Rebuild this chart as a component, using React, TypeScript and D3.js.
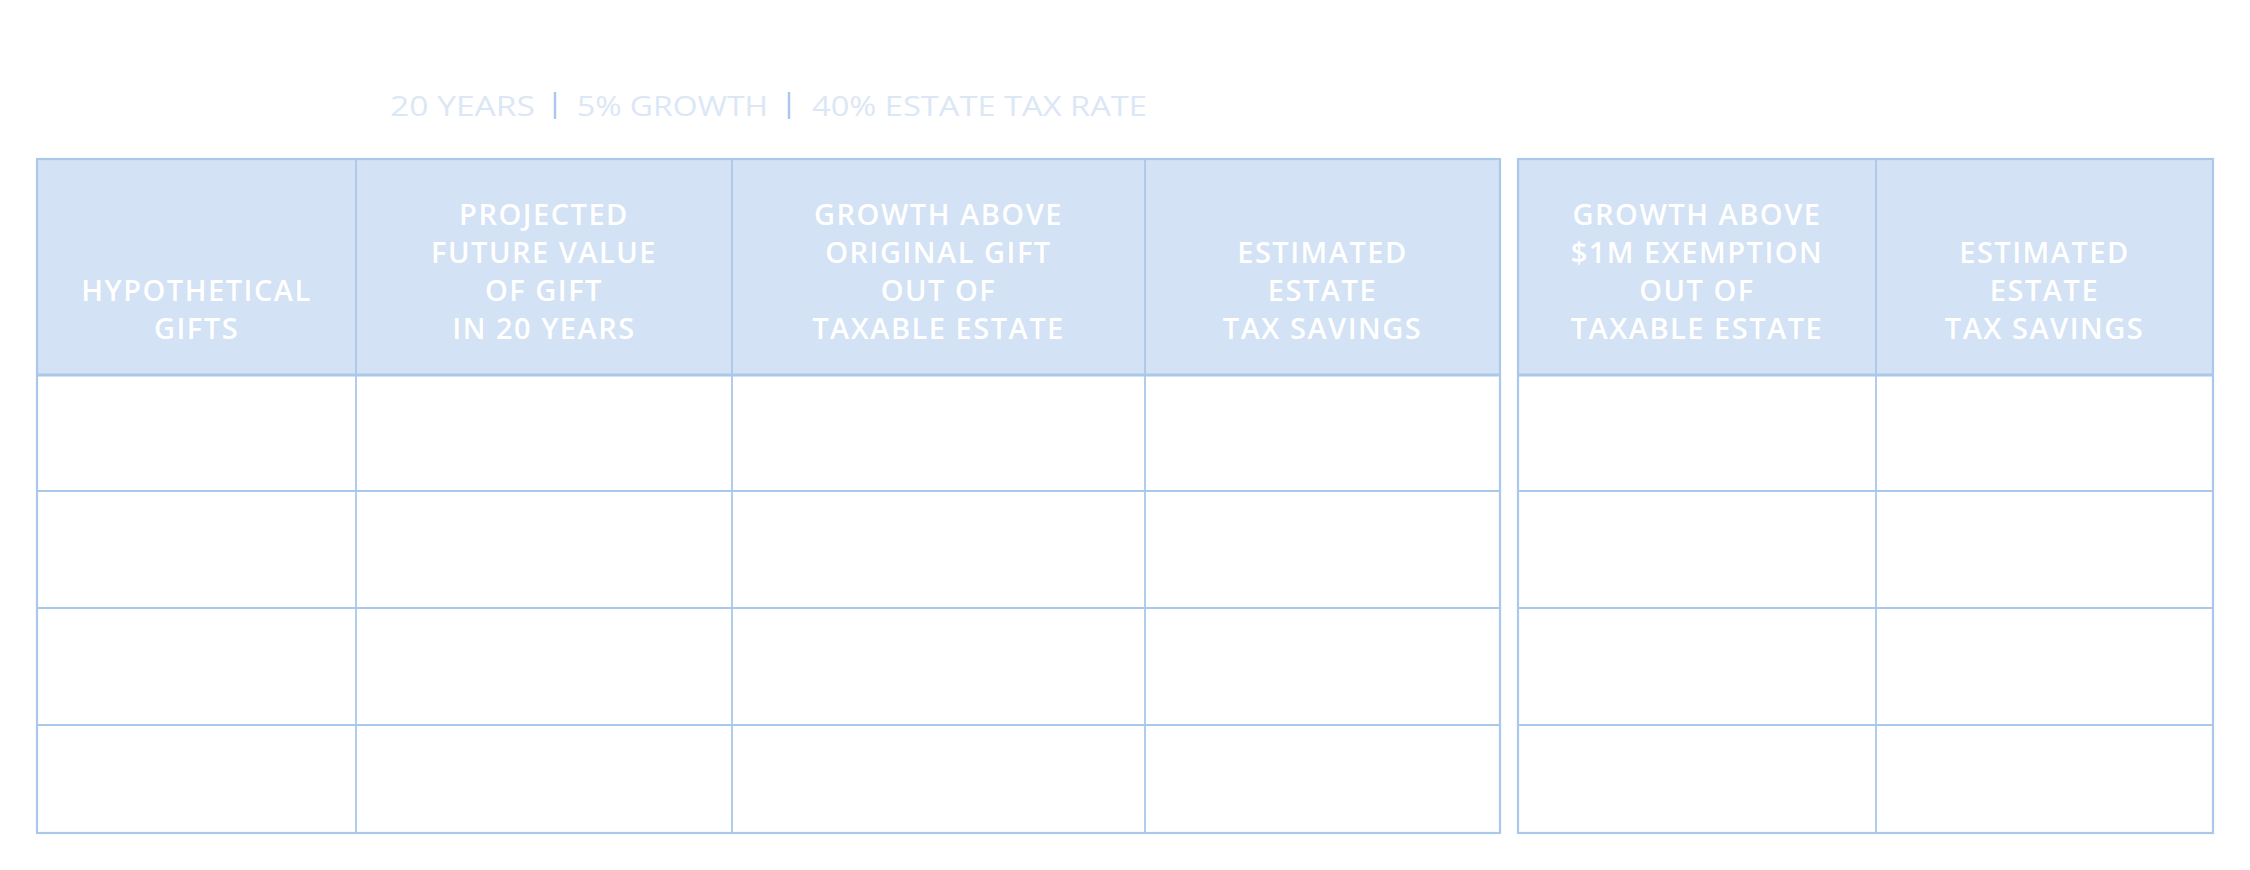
import React, { useEffect, useRef } from 'react';
import * as d3 from 'd3';

// subtitle items, separated by bars
const subtitleItems = ['20 YEARS', '5% GROWTH', '40% ESTATE TAX RATE'];

// header labels, one array of lines per column
const leftHeaders = [
  ['HYPOTHETICAL', 'GIFTS'],
  ['PROJECTED', 'FUTURE VALUE', 'OF GIFT', 'IN 20 YEARS'],
  ['GROWTH ABOVE', 'ORIGINAL GIFT', 'OUT OF', 'TAXABLE ESTATE'],
  ['ESTIMATED', 'ESTATE', 'TAX SAVINGS'],
];
const rightHeaders = [
  ['GROWTH ABOVE', '$1M EXEMPTION', 'OUT OF', 'TAXABLE ESTATE'],
  ['ESTIMATED', 'ESTATE', 'TAX SAVINGS'],
];

// body rows are left blank in the original
const leftRows = [
  ['', '', '', ''],
  ['', '', '', ''],
  ['', '', '', ''],
  ['', '', '', ''],
];
const rightRows = leftRows.map(() => ['', '']);

// layout
const W = 2250;
const H = 870;
const leftEdges = [37, 356, 732, 1145, 1500];
const rightEdges = [1518, 1876, 2213];
const tableTop = 159;
const headerBottom = 375;
const rowEdges = [375, 491, 608, 725, 833];
const border = '#a9c8ea';
const headFill = '#d3e2f4';

const drawTable = (g, edges, headers, rows) => {
  const x0 = edges[0];
  const x1 = edges[edges.length - 1];
  const yBottom = rowEdges[rowEdges.length - 1];

  g.append('rect')
    .attr('x', x0).attr('y', tableTop)
    .attr('width', x1 - x0).attr('height', headerBottom - tableTop)
    .attr('fill', headFill);

  // horizontal row lines
  g.selectAll('line.row')
    .data(rowEdges.slice(0, rows.length))
    .enter().append('line')
    .attr('class', 'row')
    .attr('x1', x0).attr('x2', x1)
    .attr('y1', d => d).attr('y2', d => d)
    .attr('stroke', border)
    .attr('stroke-width', (d, i) => (i === 0 ? 3 : 1.8));

  // column dividers
  g.selectAll('line.col')
    .data(edges.slice(1, -1))
    .enter().append('line')
    .attr('class', 'col')
    .attr('x1', d => d).attr('x2', d => d)
    .attr('y1', tableTop).attr('y2', yBottom)
    .attr('stroke', border)
    .attr('stroke-width', 1.8);

  g.append('rect')
    .attr('x', x0).attr('y', tableTop)
    .attr('width', x1 - x0).attr('height', yBottom - tableTop)
    .attr('fill', 'none')
    .attr('stroke', border)
    .attr('stroke-width', 2.2);

  const lineH = 38;
  const lastLineY = 339;
  const heads = g.selectAll('text.head')
    .data(headers)
    .enter().append('text')
    .attr('class', 'head')
    .attr('text-anchor', 'middle')
    .attr('fill', '#ffffff')
    .attr('font-family', '"Open Sans", Lato, sans-serif')
    .attr('font-weight', 600)
    .attr('font-size', 29)
    .attr('letter-spacing', 1.5);

  heads.selectAll('tspan')
    .data((d, i) => d.map((t, j) => ({ t, j, n: d.length, cx: (edges[i] + edges[i + 1]) / 2 })))
    .enter().append('tspan')
    .attr('x', d => d.cx)
    .attr('y', d => lastLineY - (d.n - 1 - d.j) * lineH)
    .text(d => d.t);
};

const App = () => {
  const ref = useRef(null);

  useEffect(() => {
    const svg = d3.select(ref.current);
    svg.selectAll('*').remove();

    drawTable(svg.append('g'), leftEdges, leftHeaders, leftRows);
    drawTable(svg.append('g'), rightEdges, rightHeaders, rightRows);

    // subtitle
    const starts = [390, 577, 812];
    const widths = [145, 191, 335];
    const sub = svg.append('g');
    sub.selectAll('text')
      .data(subtitleItems)
      .enter().append('text')
      .attr('x', (d, i) => starts[i])
      .attr('y', 116)
      .attr('textLength', (d, i) => widths[i])
      .attr('lengthAdjust', 'spacingAndGlyphs')
      .attr('fill', '#dce7f5')
      .attr('font-family', '"Open Sans", Lato, sans-serif')
      .attr('font-weight', 400)
      .attr('font-size', 28)
      .text(d => d);

    sub.selectAll('line')
      .data([555, 789])
      .enter().append('line')
      .attr('x1', d => d).attr('x2', d => d)
      .attr('y1', 92).attr('y2', 119)
      .attr('stroke', border)
      .attr('stroke-width', 2.5);
  }, []);

  return (
    <svg
      ref={ref}
      width={W}
      height={H}
      style={{ position: 'absolute', left: 0, top: 0, display: 'block', background: '#fff' }}
    />
  );
};

export default App;
